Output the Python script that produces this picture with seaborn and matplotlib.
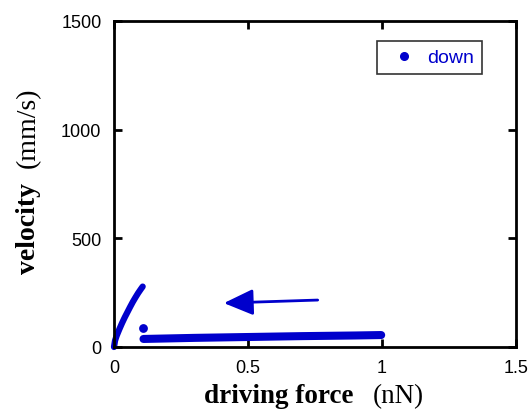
import matplotlib
matplotlib.use("Agg")
import matplotlib.pyplot as plt
from matplotlib.lines import Line2D
import seaborn as sns
import pandas as pd

# rising branch (continuous trace near the origin)
rise_force = [0.0, 0.004, 0.01, 0.02, 0.03, 0.04, 0.05, 0.06, 0.07, 0.08, 0.09, 0.1, 0.107]
rise_vel = [0, 30, 52, 82, 110, 136, 160, 184, 207, 228, 248, 266, 278]
# isolated point
dot_force = [0.108]
dot_vel = [87]
# lower branch
low_force = [0.11, 0.3, 0.5, 0.7, 0.9, 0.997]
low_vel = [37, 42, 46, 50, 53, 55]

BLUE = "#0000cc"

sns.set_theme(style="ticks")
plt.rcParams["font.family"] = ["Liberation Sans", "DejaVu Sans"]
plt.rcParams["text.color"] = "black"

fig = plt.figure(figsize=(5.29, 4.10), dpi=100)
ax = fig.add_axes([114 / 529, 1 - 348 / 410, (516 - 114) / 529, (348 - 22) / 410])

rise = pd.DataFrame({"f": rise_force, "v": rise_vel})
low = pd.DataFrame({"f": low_force, "v": low_vel})
dot = pd.DataFrame({"f": dot_force, "v": dot_vel})

sns.lineplot(data=rise, x="f", y="v", ax=ax, color=BLUE, lw=4.5, sort=False,
             solid_capstyle="round", clip_on=False)
sns.lineplot(data=low, x="f", y="v", ax=ax, color=BLUE, lw=5.8, sort=False,
             solid_capstyle="round", clip_on=False)
sns.scatterplot(data=dot, x="f", y="v", ax=ax, color=BLUE, s=40, edgecolor=BLUE,
                linewidth=0, zorder=3)

ax.annotate("", xy=(0.41, 202), xytext=(0.76, 216),
            arrowprops=dict(arrowstyle="-|>,head_length=0.9,head_width=0.4",
                            color=BLUE, lw=2, shrinkA=0, shrinkB=0, mutation_scale=20))

ax.set_xlim(0, 1.5)
ax.set_ylim(0, 1500)
ax.set_xticks([0, 0.5, 1, 1.5])
ax.set_xticklabels(["0", "0.5", "1", "1.5"])
ax.set_yticks([0, 500, 1000, 1500])
ax.set_yticklabels(["0", "500", "1000", "1500"])
ax.set_xlabel("")
ax.set_ylabel("")
for sp in ax.spines.values():
    sp.set_visible(True)
    sp.set_linewidth(2)
    sp.set_color("black")
ax.tick_params(direction="in", length=6, width=2, top=True, right=True,
               labelsize=13, colors="black", pad=9)

handle = Line2D([], [], marker="o", color=BLUE, linestyle="none", markersize=5.5)
leg = ax.legend([handle], ["down"], loc="upper right",
                bbox_to_anchor=((482 - 114) / 402, (348 - 42) / 326),
                frameon=True, fancybox=False, edgecolor="black", fontsize=14,
                handletextpad=0.2, borderpad=0.4, borderaxespad=0, labelcolor=BLUE,
                handlelength=2.0)
leg.get_frame().set_linewidth(1.2)

serif = ["Liberation Serif", "DejaVu Serif"]
fig.text(354 / 529, 1 - 403 / 410, "driving force", ha="right", va="baseline",
         fontsize=19.5, fontweight="bold", family=serif, color="black")
fig.text(373 / 529, 1 - 403 / 410, "(nN)", ha="left", va="baseline",
         fontsize=19.5, family=serif, color="black")
fig.text(35 / 529, 1 - 183 / 410, "velocity", ha="right", va="baseline",
         rotation=90, rotation_mode="anchor", fontsize=20, fontweight="bold",
         family=serif, color="black")
fig.text(35 / 529, 1 - 168 / 410, "(mm/s)", ha="left", va="baseline",
         rotation=90, rotation_mode="anchor", fontsize=20, family=serif, color="black")

fig.savefig("out.png", dpi=100)
